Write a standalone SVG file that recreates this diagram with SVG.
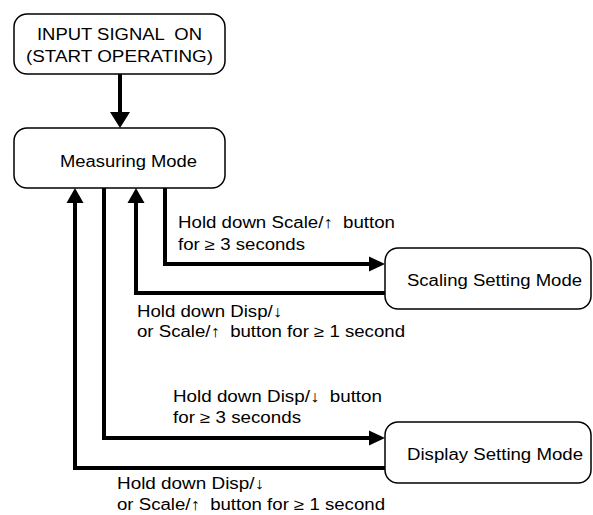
<svg xmlns="http://www.w3.org/2000/svg" width="593" height="515" viewBox="0 0 593 515">
<style>
.box{fill:#fff;stroke:#000;stroke-width:1.5}
.t{font-family:"Liberation Sans",Arial,Helvetica,sans-serif;font-size:16px;fill:#000}
.c{fill:none;stroke:#000;stroke-width:4;stroke-linejoin:miter}
.h{fill:#000;stroke:none}
</style>
<rect width="593" height="515" fill="#fff"/>
<g id="connectors">
<line class="c" x1="120" y1="74" x2="120" y2="113"/>
<polygon class="h" points="110,112 130,112 120,128"/>
<path class="c" d="M165,188 V264 H370"/>
<polygon class="h" points="369,256.5 385,264 369,271.5"/>
<path class="c" d="M385,293 H136 V202"/>
<polygon class="h" points="127.5,203 144.5,203 136,188"/>
<path class="c" d="M104,188 V438 H370"/>
<polygon class="h" points="369,430.5 385,438 369,445.5"/>
<path class="c" d="M385,468 H75 V202"/>
<polygon class="h" points="66.5,203 83.5,203 75,188"/>
</g>
<g id="start">
<rect class="box" x="14" y="14" width="211" height="60" rx="13"/>
<text class="t" xml:space="preserve" x="37" y="39.5" textLength="165" lengthAdjust="spacingAndGlyphs">INPUT SIGNAL  ON</text>
<text class="t" x="26" y="61.5" textLength="187" lengthAdjust="spacingAndGlyphs">(START OPERATING)</text>
</g>
<g id="measuring">
<rect class="box" x="14" y="128" width="211" height="60" rx="13"/>
<text class="t" x="60" y="166.5" textLength="137" lengthAdjust="spacingAndGlyphs">Measuring Mode</text>
</g>
<g id="scaling">
<rect class="box" x="385" y="248" width="206" height="61" rx="13"/>
<text class="t" x="407" y="286" textLength="175" lengthAdjust="spacingAndGlyphs">Scaling Setting Mode</text>
</g>
<g id="display">
<rect class="box" x="385" y="422" width="206" height="61" rx="13"/>
<text class="t" x="407" y="460" textLength="176" lengthAdjust="spacingAndGlyphs">Display Setting Mode</text>
</g>
<g id="labels">
<text class="t" xml:space="preserve" x="178" y="228" textLength="217" lengthAdjust="spacingAndGlyphs">Hold down Scale/↑  button</text>
<text class="t" x="178" y="250" textLength="127" lengthAdjust="spacingAndGlyphs">for ≥ 3 seconds</text>
<text class="t" x="137" y="316.5" textLength="145" lengthAdjust="spacingAndGlyphs">Hold down Disp/↓</text>
<text class="t" xml:space="preserve" x="137" y="337" textLength="268" lengthAdjust="spacingAndGlyphs">or Scale/↑  button for ≥ 1 second</text>
<text class="t" xml:space="preserve" x="173" y="402" textLength="209" lengthAdjust="spacingAndGlyphs">Hold down Disp/↓  button</text>
<text class="t" x="173" y="423" textLength="128" lengthAdjust="spacingAndGlyphs">for ≥ 3 seconds</text>
<text class="t" x="117" y="489" textLength="147" lengthAdjust="spacingAndGlyphs">Hold down Disp/↓</text>
<text class="t" xml:space="preserve" x="117" y="509.5" textLength="268" lengthAdjust="spacingAndGlyphs">or Scale/↑  button for ≥ 1 second</text>
</g>
</svg>
